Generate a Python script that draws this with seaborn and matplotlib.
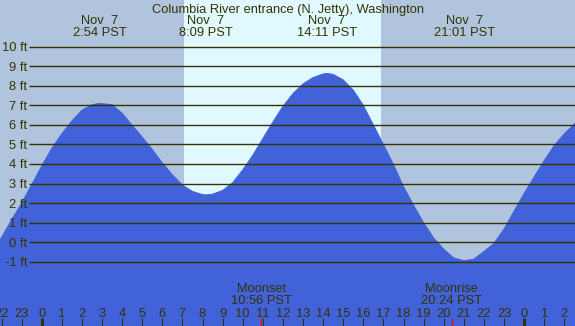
import pandas as pd
import matplotlib
matplotlib.use("Agg")
import matplotlib.pyplot as plt
import seaborn as sns

# tide heights (ft), hours since midnight Nov 7 (PST)
tide_hours = [-2.08, -2.0, -1.5, -1.0, -0.5, 0.0, 0.5, 1.0, 1.5, 2.0, 2.5, 2.9, 3.5,
              4.0, 4.5, 5.0, 5.5, 6.0, 6.5, 7.0, 7.5, 8.0, 8.15, 8.5, 9.0, 9.5,
              10.0, 10.5, 11.0, 11.5, 12.0, 12.5, 13.0, 13.5, 14.0, 14.18, 14.5,
              15.0, 15.5, 16.0, 16.5, 17.0, 17.5, 18.0, 18.5, 19.0, 19.5, 20.0,
              20.5, 21.02, 21.5, 22.0, 22.5, 23.0, 23.5, 24.0, 24.5, 25.0, 25.5,
              26.0, 26.6]
tide_ft = [0.1, 0.25, 1.15, 2.0, 2.95, 3.9, 4.8, 5.55, 6.2, 6.75, 7.03, 7.1, 7.03,
           6.6, 5.98, 5.38, 4.75, 4.06, 3.45, 2.92, 2.6, 2.44, 2.42, 2.46, 2.65, 3.05,
           3.7, 4.45, 5.3, 6.15, 6.95, 7.6, 8.1, 8.42, 8.6, 8.63, 8.58,
           8.3, 7.78, 7.0, 6.0, 5.0, 3.98, 2.85, 1.9, 1.0, 0.22, -0.35,
           -0.8, -0.94, -0.86, -0.47, -0.05, 0.68, 1.6, 2.5, 3.35, 4.18, 4.95,
           5.55, 6.15]

# high / low tide events
event_hours = [2.9, 8.15, 14.18, 21.02]
event_dates = ["Nov  7", "Nov  7", "Nov  7", "Nov  7"]
event_times = ["2:54 PST", "8:09 PST", "14:11 PST", "21:01 PST"]

# moon events
moon_hours = [10.93, 20.4]
moon_names = ["Moonset", "Moonrise"]
moon_times = ["10:56 PST", "20:24 PST"]

sunrise, sunset = 7.08, 16.88
feet_levels = list(range(-1, 11))
hour_ticks = list(range(-2, 27))

night = "#b0c4de"
day = "#e0f8ff"
water = "#4162d8"
ink = "#333300"
fs = 9.3

sns.set_style("white")
plt.rcParams['font.family'] = ['Liberation Sans', 'DejaVu Sans']

fig = plt.figure(figsize=(5.75, 3.26), dpi=100)
ax = fig.add_axes([0, 0, 1, 1])
ax.set_facecolor(night)
ax.set_xlim(-2.075, 26.53)
ax.set_ylim(-4.28, 12.38)

ax.axvspan(sunrise, sunset, color=day, lw=0, zorder=0)

df = pd.DataFrame({"hour": tide_hours, "ft": tide_ft})
ax.fill_between(df["hour"], df["ft"], -10, color=water, lw=0, zorder=1)
sns.lineplot(data=df, x="hour", y="ft", color=water, lw=0.6, ax=ax, zorder=2)

# horizontal level lines with labels
for lv in feet_levels:
    ax.hlines(lv, -0.63, 27, color=ink, lw=1.0, zorder=3)
    ax.text(-0.73, lv - 0.23, f"{lv} ft", ha="right", va="baseline",
            fontsize=fs, color=ink, zorder=4)

# title and tide event labels
ax.text(0.5, 1 - 13 / 326, "Columbia River entrance (N. Jetty), Washington",
        transform=ax.transAxes, ha="center", va="baseline", fontsize=fs, color=ink)
for h, d, t in zip(event_hours, event_dates, event_times):
    ax.text(h, 1 - 23.5 / 326, d, transform=ax.get_xaxis_transform(),
            ha="center", va="baseline", fontsize=fs, color=ink)
    ax.text(h, 1 - 36 / 326, t, transform=ax.get_xaxis_transform(),
            ha="center", va="baseline", fontsize=fs, color=ink)

# hour ticks along the bottom
tr = ax.get_xaxis_transform()
for h in hour_ticks:
    w = 3.0 if h % 24 == 0 else 1.0
    ax.vlines(h, 0, 8 / 326, transform=tr, color=ink, lw=w * 0.72, zorder=5)
    ax.text(h, 1 - 316.7 / 326, str(h % 24), transform=tr, ha="center",
            va="baseline", fontsize=fs, color=ink, zorder=5)

for h, n, t in zip(moon_hours, moon_names, moon_times):
    ax.vlines(h, 0, 8 / 326, transform=tr, color="red", lw=0.9, zorder=6)
    ax.text(h, 1 - 291.7 / 326, n, transform=tr, ha="center", va="baseline",
            fontsize=fs, color=ink, zorder=5)
    ax.text(h, 1 - 303.5 / 326, t, transform=tr, ha="center", va="baseline",
            fontsize=fs, color=ink, zorder=5)

ax.set_xlabel("")
ax.set_ylabel("")
ax.set_xticks([])
ax.set_yticks([])
for s in ax.spines.values():
    s.set_visible(False)

fig.savefig("out.png", dpi=100)
plt.close()
